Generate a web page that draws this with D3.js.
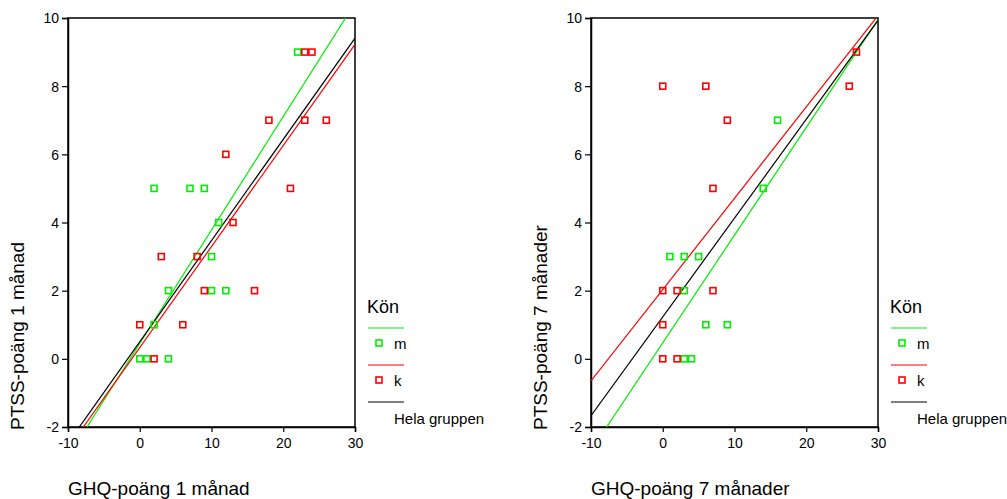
<!DOCTYPE html>
<html>
<head>
<meta charset="utf-8">
<script src="https://cdn.jsdelivr.net/npm/d3@7"></script>
<style>
  html, body { margin: 0; padding: 0; background: #fff; }
  svg { display: block; font-family: Arial, "Liberation Sans", sans-serif; }
</style>
</head>
<body>
<svg id="chart" width="1007" height="499"></svg>
<script>
// Axis ticks shared by both panels
const xTicks = [-10, 0, 10, 20, 30];
const yTicks = [-2, 0, 2, 4, 6, 8, 10];

// Panel 1: GHQ vs PTSS after 1 month, [GHQ, PTSS]
const men1 = [[22, 9], [2, 5], [7, 5], [9, 5], [11, 4], [10, 3], [4, 2], [10, 2], [12, 2], [2, 1], [0, 0], [1, 0], [4, 0]];
const women1 = [[23, 9], [24, 9], [18, 7], [23, 7], [26, 7], [12, 6], [21, 5], [13, 4], [3, 3], [8, 3], [9, 2], [16, 2], [0, 1], [6, 1], [2, 0]];
// Fitted lines as [intercept, slope]
const fitMen1 = [0.45, 0.333];
const fitWomen1 = [0.33, 0.2965];
const fitAll1 = [0.50, 0.297];

// Panel 2: GHQ vs PTSS after 7 months
const men2 = [[16, 7], [14, 5], [1, 3], [3, 3], [5, 3], [3, 2], [6, 1], [9, 1], [3, 0], [4, 0]];
const women2 = [[0, 8], [6, 8], [26, 8], [27, 9], [9, 7], [7, 5], [0, 2], [2, 2], [7, 2], [0, 1], [0, 0], [2, 0]];
const fitMen2 = [0.47, 0.316];
const fitWomen2 = [2.03, 0.268];
const fitAll2 = [1.23, 0.290];

const panels = [
  { left: 68, xTitle: "GHQ-poäng 1 månad", yTitle: "PTSS-poäng 1 månad",
    men: men1, women: women1, fits: [fitMen1, fitWomen1, fitAll1] },
  { left: 591, xTitle: "GHQ-poäng 7 månader", yTitle: "PTSS-poäng 7 månader",
    men: men2, women: women2, fits: [fitMen2, fitWomen2, fitAll2] }
];

const green = "#00ee00", red = "#ff0000", black = "#000000";
const fitColors = [green, red, black];
const plotW = 287, plotTop = 18, plotBottom = 427;

const svg = d3.select("#chart");
const plain = d => String(d);

panels.forEach((p, i) => {
  const x = d3.scaleLinear().domain([-10, 30]).range([p.left, p.left + plotW]);
  const y = d3.scaleLinear().domain([-2, 10]).range([plotBottom, plotTop]);
  const g = svg.append("g");

  const clipId = "clip" + i;
  svg.append("clipPath").attr("id", clipId)
    .append("rect").attr("x", p.left).attr("y", plotTop).attr("width", plotW).attr("height", plotBottom - plotTop);

  // Frame
  g.append("rect").attr("x", p.left).attr("y", plotTop).attr("width", plotW).attr("height", plotBottom - plotTop)
    .attr("fill", "none").attr("stroke", "#000").attr("stroke-width", 1.5);

  // Axes
  const yAxis = d3.axisLeft(y).tickValues(yTicks).tickSize(6).tickPadding(3).tickFormat(plain);
  const xAxis = d3.axisBottom(x).tickValues(xTicks).tickSize(5).tickPadding(3).tickFormat(plain);
  const ya = g.append("g").attr("transform", `translate(${p.left},0)`).call(yAxis);
  const xa = g.append("g").attr("transform", `translate(0,${plotBottom})`).call(xAxis);
  [ya, xa].forEach(a => {
    a.select(".domain").attr("stroke-width", 1.5);
    a.selectAll(".tick line").attr("stroke-width", 1.2);
    a.selectAll(".tick text").attr("font-size", 14).attr("fill", "#000")
      .attr("font-family", "Arial, 'Liberation Sans', sans-serif");
  });
  ya.selectAll(".tick text").attr("dy", "0.35em");
  xa.selectAll(".tick text").attr("dy", "0.9em");

  // Regression lines
  const lines = g.append("g").attr("clip-path", `url(#${clipId})`);
  p.fits.forEach((f, j) => {
    const ends = [-10, 30].map(v => [v, f[0] + f[1] * v]);
    lines.append("path")
      .attr("d", d3.line().x(d => x(d[0])).y(d => y(d[1]))(ends))
      .attr("stroke", fitColors[j]).attr("stroke-width", 1.2).attr("fill", "none");
  });

  // Data points as hollow squares
  const s = 6;
  [[p.men, green], [p.women, red]].forEach(([data, col]) => {
    g.append("g").selectAll("rect").data(data).join("rect")
      .attr("x", d => x(d[0]) - s / 2).attr("y", d => y(d[1]) - s / 2)
      .attr("width", s).attr("height", s)
      .attr("fill", "none").attr("stroke", col).attr("stroke-width", 1.6);
  });

  // Axis titles
  g.append("text").attr("x", p.left).attr("y", 495).attr("font-size", 19).text(p.xTitle);
  g.append("text").attr("transform", `translate(${p.left - 44},430) rotate(-90)`)
    .attr("font-size", 19).text(p.yTitle);

  // Legend
  const lx = p.left + 300;
  const lg = g.append("g");
  lg.append("text").attr("x", lx - 1).attr("y", 313).attr("font-size", 18).text("Kön");
  const rows = [
    { col: green, label: "m", ly: 328, sy: 343 },
    { col: red, label: "k", ly: 365, sy: 380 },
    { col: black, label: "Hela gruppen", ly: 402, sy: null }
  ];
  rows.forEach(r => {
    lg.append("line").attr("x1", lx).attr("x2", lx + 36).attr("y1", r.ly).attr("y2", r.ly)
      .attr("stroke", r.col).attr("stroke-width", 1.2);
    if (r.sy !== null) {
      lg.append("rect").attr("x", lx + 8).attr("y", r.sy - 3).attr("width", 6).attr("height", 6)
        .attr("fill", "none").attr("stroke", r.col).attr("stroke-width", 1.6);
      lg.append("text").attr("x", lx + 26).attr("y", r.sy + 6).attr("font-size", 15).text(r.label);
    } else {
      lg.append("text").attr("x", lx + 26).attr("y", r.ly + 22).attr("font-size", 15).text(r.label);
    }
  });
});
</script>
</body>
</html>
